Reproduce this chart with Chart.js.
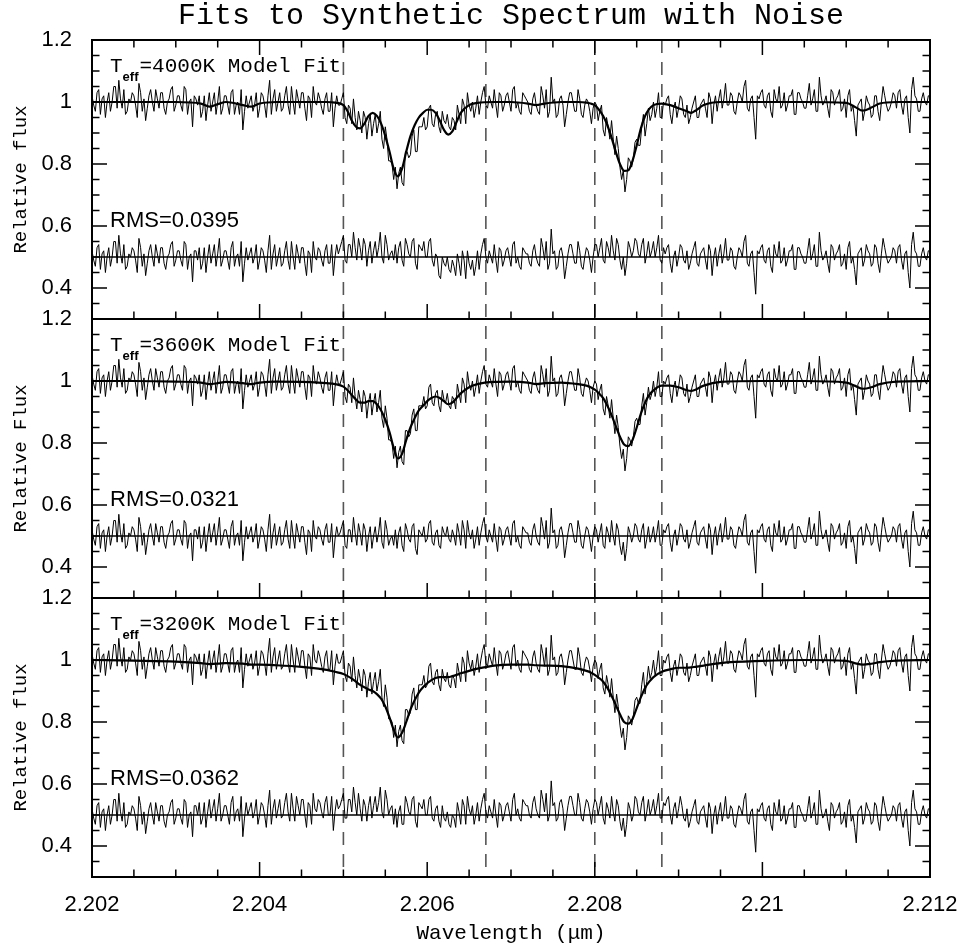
<!DOCTYPE html>
<html>
<head>
<meta charset="utf-8">
<script src="https://cdn.jsdelivr.net/npm/chart.js@4.4.1/dist/chart.umd.min.js"></script>
<style>
html,body{margin:0;padding:0;background:#fff;}
#wrap{position:relative;width:960px;height:952px;}
</style>
</head>
<body>
<div id="wrap"><canvas id="c" width="960" height="952"></canvas></div>
<script>
// ---------------- data ----------------
const WAVE_START = 2.202;      // first wavelength sample (micron)
const WAVE_STEP = 0.00002;     // sampling of the synthetic spectrum (micron)

// synthetic spectrum with noise (same in all three panels)
const SPECTRUM = [
1.02,.99,.97,1.03,1.04,.96,1.01,1.02,.95,1.00,1.03,.97,1.00,1.05,1.05,.98,1.07,1.01,.98,1.04,
.96,.97,1.01,1.00,1.03,1.02,.99,.95,1.06,1.03,.97,1.01,.94,.98,1.02,1.04,1.00,.97,1.04,1.01,
.98,1.03,1.03,.98,.96,1.00,1.01,1.04,1.05,.97,.99,1.02,1.02,.99,.97,1.05,1.04,.96,1.00,1.01,
.92,1.02,1.01,.99,1.02,.95,.97,1.02,.94,.99,1.03,.97,1.00,1.03,.96,1.00,1.05,.96,.98,1.02,
1.02,.99,.96,1.03,1.04,.96,.99,1.00,.96,1.04,.91,.97,1.02,.98,1.00,1.02,.97,.99,1.03,.95,
.98,1.03,1.02,.99,.95,1.02,1.07,.96,1.01,1.04,.97,1.00,1.03,.97,.98,1.02,1.05,.99,.96,1.05,
1.00,.96,1.04,1.01,.98,1.03,1.03,.98,.94,1.02,1.01,.95,1.05,1.00,.99,1.03,1.01,.98,.96,1.01,
1.03,.97,.97,1.03,.92,.98,1.02,.99,.99,1.01,1.03,.95,.93,.99,.98,.93,1.01,.95,.91,.97,
.94,.90,.97,.95,.88,.93,.96,.89,.93,.96,.90,.93,.97,.88,.85,.92,.88,.81,.81,.80,
.75,.79,.72,.77,.79,.74,.73,.84,.84,.82,.83,.89,.91,.84,.84,.92,.92,.92,.95,.91,
.92,.98,.99,.93,.92,.96,.97,.92,.90,.97,.94,.93,.96,.92,.91,.95,.94,.91,.99,.96,
.93,1.01,.99,.93,1.03,.99,.97,1.00,.95,.98,1.02,.96,1.00,1.03,1.05,.99,.98,1.02,1.00,.98,
1.04,.99,.95,1.03,1.02,.97,.99,1.02,1.03,1.00,.97,1.04,1.05,.98,1.00,.97,.96,1.03,1.02,1.01,
1.00,.97,.96,1.01,1.03,.99,.97,.96,1.05,1.02,.98,1.04,.95,.97,1.08,1.00,1.01,.95,.96,1.01,
1.02,.99,.92,.96,1.00,1.03,1.03,1.00,.97,.97,1.04,1.01,.96,.95,.99,1.01,1.00,.97,.93,.98,
1.00,.99,.94,.97,.99,.91,.89,.95,.92,.88,.94,.88,.83,.89,.85,.79,.75,.78,.71,.75,
.82,.81,.79,.82,.87,.88,.86,.86,.92,.96,.89,.93,.98,.94,.96,1.00,.95,.98,1.03,.95,
.95,1.00,.99,1.01,1.02,.96,.93,.98,1.00,.95,.98,1.02,1.01,.96,.95,.99,.93,.95,.98,1.00,
1.02,.95,.95,.99,1.00,1.01,.98,.95,1.03,1.01,.93,.99,1.02,.97,1.01,1.04,.98,1.01,1.06,.99,
.99,1.03,1.02,.97,.96,1.00,1.03,1.02,1.00,1.05,1.07,.98,.97,1.01,1.02,.95,.88,1.02,1.01,1.03,
1.04,.99,.98,1.02,1.03,.97,.95,1.04,1.01,1.00,1.05,.98,.99,1.03,.97,.99,1.02,1.02,1.04,.96,
.96,1.03,1.03,1.01,1.00,.98,.98,1.02,1.06,.99,1.01,1.04,.97,.97,1.08,1.02,.99,1.00,1.02,.98,
.95,1.04,1.03,.99,1.01,1.02,1.04,.97,.98,1.01,.95,1.02,1.04,.97,.99,.94,.89,.99,1.00,1.01,
.94,.97,1.02,1.00,.99,.95,.96,1.02,1.02,.97,.94,1.00,1.05,1.02,.99,.97,.98,1.00,1.03,1.02,
.98,1.03,1.04,.99,.96,1.01,1.02,.95,.90,1.04,1.08,1.02,1.01,.97,.97,1.01,1.03,1.00,.99,1.02,
1.02];

// residuals (data - model + 0.5) for each fit
const RESID_4000 = [
.52,.49,.47,.53,.54,.46,.51,.52,.45,.50,.53,.47,.50,.55,.55,.48,.57,.51,.48,.54,
.46,.47,.51,.50,.53,.52,.49,.45,.56,.53,.47,.51,.44,.48,.52,.54,.50,.47,.54,.51,
.48,.53,.53,.48,.46,.50,.51,.54,.55,.47,.49,.52,.52,.49,.47,.55,.54,.46,.50,.51,
.42,.52,.52,.49,.53,.46,.48,.53,.45,.50,.54,.48,.51,.54,.47,.51,.56,.47,.49,.52,
.52,.49,.46,.53,.55,.47,.50,.51,.47,.55,.42,.48,.53,.49,.51,.53,.48,.50,.54,.46,
.49,.53,.52,.49,.45,.52,.57,.46,.51,.54,.47,.50,.53,.47,.48,.52,.55,.49,.46,.55,
.50,.46,.54,.51,.48,.53,.53,.48,.44,.52,.51,.45,.55,.50,.49,.53,.52,.49,.47,.52,
.54,.48,.48,.54,.44,.50,.54,.51,.53,.55,.57,.49,.48,.54,.54,.50,.58,.53,.49,.56,
.53,.49,.56,.54,.47,.52,.55,.48,.52,.55,.50,.53,.58,.50,.48,.57,.54,.49,.51,.52,
.49,.54,.48,.53,.55,.49,.47,.56,.54,.51,.50,.55,.56,.48,.46,.54,.53,.52,.55,.50,
.50,.55,.56,.49,.47,.51,.50,.44,.43,.50,.48,.47,.50,.46,.45,.49,.47,.44,.51,.48,
.44,.52,.49,.43,.52,.48,.46,.49,.44,.47,.52,.46,.51,.54,.56,.50,.48,.52,.50,.48,
.54,.49,.45,.53,.52,.47,.49,.52,.53,.50,.47,.54,.55,.48,.50,.47,.46,.53,.52,.51,
.51,.48,.47,.52,.54,.50,.48,.47,.56,.53,.49,.55,.46,.48,.59,.51,.52,.46,.47,.52,
.53,.50,.43,.47,.51,.54,.54,.51,.48,.48,.55,.52,.47,.46,.50,.53,.52,.49,.45,.50,
.54,.54,.50,.53,.56,.49,.48,.55,.53,.50,.57,.52,.49,.56,.54,.49,.46,.50,.44,.48,
.55,.53,.50,.52,.56,.55,.51,.50,.54,.56,.48,.51,.55,.50,.52,.55,.50,.53,.57,.49,
.48,.53,.51,.53,.54,.48,.45,.50,.52,.47,.50,.54,.53,.49,.48,.52,.46,.48,.51,.53,
.55,.48,.47,.51,.52,.53,.49,.46,.54,.52,.44,.50,.53,.47,.51,.54,.48,.51,.56,.49,
.49,.53,.52,.47,.46,.50,.53,.52,.50,.55,.57,.48,.47,.51,.52,.45,.38,.52,.51,.53,
.54,.49,.48,.52,.53,.47,.45,.54,.51,.50,.55,.48,.49,.53,.47,.49,.52,.52,.54,.46,
.46,.53,.53,.51,.50,.48,.48,.52,.56,.49,.51,.54,.47,.47,.58,.52,.49,.50,.52,.48,
.45,.54,.53,.49,.51,.52,.54,.47,.48,.51,.46,.53,.55,.48,.50,.46,.41,.51,.52,.53,
.47,.49,.54,.52,.51,.47,.48,.54,.53,.48,.45,.51,.56,.53,.50,.48,.49,.50,.53,.52,
.48,.53,.54,.49,.46,.51,.52,.45,.40,.54,.58,.52,.51,.47,.47,.51,.53,.50,.49,.52,
.52];

const RESID_3600 = [
.52,.49,.47,.53,.54,.46,.51,.52,.45,.50,.53,.47,.50,.55,.55,.48,.57,.51,.48,.54,
.46,.47,.51,.50,.53,.52,.49,.45,.56,.53,.47,.51,.44,.48,.52,.54,.50,.47,.54,.51,
.48,.53,.53,.48,.46,.50,.51,.54,.55,.47,.49,.52,.52,.49,.47,.55,.54,.46,.50,.51,
.42,.52,.52,.49,.53,.46,.48,.53,.45,.50,.54,.48,.51,.54,.47,.51,.56,.47,.49,.52,
.52,.49,.46,.53,.55,.47,.50,.51,.47,.55,.42,.48,.53,.49,.51,.53,.48,.50,.54,.46,
.49,.53,.52,.49,.45,.52,.57,.46,.51,.54,.47,.50,.53,.47,.48,.52,.55,.49,.46,.55,
.50,.46,.54,.51,.48,.53,.53,.48,.44,.52,.51,.45,.55,.50,.49,.53,.52,.49,.47,.52,
.54,.48,.48,.54,.43,.49,.53,.50,.51,.53,.55,.47,.46,.52,.52,.48,.56,.51,.47,.54,
.51,.47,.54,.52,.45,.50,.53,.46,.50,.53,.48,.51,.56,.48,.46,.55,.52,.47,.49,.50,
.47,.52,.46,.51,.53,.47,.45,.54,.52,.49,.48,.53,.54,.46,.44,.52,.51,.50,.53,.48,
.49,.54,.55,.48,.47,.51,.52,.47,.46,.53,.51,.50,.53,.49,.48,.52,.50,.47,.54,.51,
.47,.55,.52,.46,.55,.51,.49,.52,.46,.49,.53,.47,.51,.54,.56,.50,.48,.52,.50,.48,
.54,.49,.45,.53,.52,.47,.49,.52,.53,.50,.47,.54,.55,.48,.50,.47,.46,.53,.52,.51,
.51,.48,.47,.52,.54,.50,.48,.47,.56,.53,.49,.55,.46,.48,.59,.51,.52,.46,.47,.52,
.53,.50,.43,.47,.51,.54,.54,.51,.48,.48,.55,.52,.47,.46,.50,.53,.52,.49,.45,.50,
.53,.52,.48,.51,.54,.47,.46,.53,.51,.48,.55,.50,.47,.54,.52,.47,.44,.48,.42,.46,
.53,.51,.48,.50,.54,.53,.49,.48,.52,.54,.46,.49,.53,.48,.50,.53,.48,.51,.55,.47,
.47,.52,.51,.53,.54,.48,.45,.50,.52,.47,.50,.54,.53,.49,.48,.52,.46,.48,.51,.53,
.55,.48,.47,.51,.52,.53,.49,.46,.54,.52,.44,.50,.53,.47,.51,.54,.48,.51,.56,.49,
.49,.53,.52,.47,.46,.50,.53,.52,.50,.55,.57,.48,.47,.51,.52,.45,.38,.52,.51,.53,
.54,.49,.48,.52,.53,.47,.45,.54,.51,.50,.55,.48,.49,.53,.47,.49,.52,.52,.54,.46,
.46,.53,.53,.51,.50,.48,.48,.52,.56,.49,.51,.54,.47,.47,.58,.52,.49,.50,.52,.48,
.45,.54,.53,.49,.51,.52,.54,.47,.48,.51,.46,.53,.55,.48,.50,.46,.41,.51,.52,.53,
.47,.49,.54,.52,.51,.47,.48,.54,.53,.48,.45,.51,.56,.53,.50,.48,.49,.50,.53,.52,
.48,.53,.54,.49,.46,.51,.52,.45,.40,.54,.58,.52,.51,.47,.47,.51,.53,.50,.49,.52,
.52];

const RESID_3200 = [
.52,.49,.47,.53,.54,.46,.51,.52,.45,.50,.53,.47,.50,.55,.55,.48,.57,.51,.48,.54,
.46,.47,.51,.50,.53,.52,.49,.45,.56,.53,.47,.51,.44,.48,.52,.54,.50,.47,.54,.51,
.48,.53,.53,.48,.46,.50,.51,.54,.55,.47,.49,.52,.52,.49,.47,.55,.54,.46,.50,.51,
.43,.53,.53,.50,.54,.47,.49,.54,.46,.51,.55,.49,.52,.55,.48,.52,.57,.48,.50,.53,
.53,.50,.47,.54,.56,.48,.51,.52,.48,.56,.43,.49,.54,.50,.52,.54,.49,.51,.55,.47,
.50,.54,.53,.50,.46,.53,.58,.47,.52,.55,.49,.52,.55,.49,.50,.54,.57,.51,.48,.57,
.52,.48,.56,.53,.50,.55,.55,.50,.46,.54,.53,.47,.57,.52,.51,.55,.54,.51,.49,.54,
.56,.50,.50,.56,.45,.51,.55,.52,.53,.55,.57,.49,.49,.55,.55,.51,.59,.54,.50,.57,
.52,.48,.55,.53,.48,.53,.56,.49,.53,.56,.51,.54,.59,.51,.49,.58,.55,.50,.52,.53,
.47,.52,.46,.51,.53,.47,.47,.56,.54,.51,.50,.55,.56,.48,.46,.54,.53,.52,.55,.50,
.50,.55,.56,.49,.48,.52,.53,.48,.46,.53,.49,.48,.51,.47,.46,.50,.49,.46,.54,.51,
.47,.55,.53,.47,.56,.52,.50,.53,.47,.50,.54,.48,.52,.55,.57,.51,.49,.53,.51,.49,
.55,.50,.46,.54,.53,.48,.50,.53,.54,.51,.48,.55,.57,.50,.52,.49,.48,.55,.54,.53,
.53,.50,.49,.54,.56,.52,.50,.49,.58,.55,.51,.57,.48,.50,.61,.53,.54,.48,.49,.54,
.55,.52,.45,.49,.53,.56,.56,.53,.50,.50,.57,.54,.49,.48,.52,.55,.54,.51,.47,.52,
.55,.54,.50,.53,.56,.49,.47,.54,.52,.49,.56,.51,.48,.55,.53,.48,.45,.49,.43,.47,
.54,.52,.48,.50,.56,.55,.51,.50,.54,.56,.48,.51,.55,.50,.52,.55,.50,.53,.57,.49,
.49,.54,.53,.55,.56,.50,.47,.52,.54,.49,.52,.56,.53,.49,.48,.52,.46,.48,.51,.53,
.55,.48,.47,.51,.52,.53,.49,.46,.54,.52,.44,.50,.53,.47,.51,.54,.48,.51,.56,.49,
.49,.53,.52,.47,.46,.50,.53,.52,.50,.55,.57,.48,.47,.51,.52,.45,.38,.52,.51,.53,
.54,.49,.48,.52,.53,.47,.45,.54,.51,.50,.55,.48,.49,.53,.47,.49,.52,.52,.54,.46,
.46,.53,.53,.51,.50,.48,.48,.52,.56,.49,.51,.54,.47,.47,.58,.52,.49,.50,.52,.48,
.45,.54,.53,.49,.51,.52,.54,.47,.48,.51,.46,.53,.55,.48,.50,.46,.41,.51,.52,.53,
.47,.49,.54,.52,.51,.47,.48,.54,.53,.48,.45,.51,.56,.53,.50,.48,.49,.50,.53,.52,
.48,.53,.54,.49,.46,.51,.52,.45,.40,.54,.58,.52,.51,.47,.47,.51,.53,.50,.49,.52,
.52];

// model fits, sampled at MODEL_WAVE
const MODEL_WAVE = [
2.2020,2.2025,2.2030,2.2033,2.2034,2.2035,2.2036,2.2038,2.2039,2.2040,
2.2042,2.2045,2.2047,2.2048,2.2049,2.2050,2.20505,2.2051,2.20515,2.2052,
2.20525,2.2053,2.20535,2.2054,2.20545,2.2055,2.20555,2.2056,2.20565,2.2057,
2.20575,2.2058,2.20585,2.2059,2.20595,2.2060,2.20605,2.2061,2.20615,2.2062,
2.20625,2.2063,2.20635,2.2064,2.2065,2.2066,2.2068,2.2070,2.2072,2.2073,
2.2074,2.2076,2.2078,2.2079,2.20795,2.2080,2.20805,2.2081,2.20815,2.2082,
2.20825,2.2083,2.20835,2.2084,2.20845,2.2085,2.20855,2.2086,2.20865,2.2087,
2.2088,2.2089,2.2090,2.2091,2.20915,2.2092,2.2093,2.2095,2.2100,2.2105,
2.2110,2.2111,2.2112,2.2113,2.2114,2.2116,2.2120];

const MODEL_4000 = [
1.0,1.0,1.0,0.995,0.985,0.993,1.0,0.99,0.985,0.995,
1.0,1.0,1.0,1.0,0.998,0.99,0.97,0.94,0.92,0.915,
0.93,0.955,0.965,0.955,0.93,0.89,0.84,0.785,0.76,0.785,
0.84,0.89,0.925,0.95,0.965,0.975,0.975,0.965,0.94,0.91,
0.895,0.905,0.935,0.965,0.99,0.997,1.0,1.0,0.995,0.99,
0.995,1.0,1.0,0.998,0.995,0.99,0.975,0.955,0.925,0.885,
0.84,0.80,0.778,0.78,0.81,0.86,0.915,0.955,0.978,0.99,
0.995,0.99,0.98,0.97,0.965,0.972,0.99,1.0,1.0,1.0,
0.997,0.985,0.972,0.982,0.995,1.0,1.0];

const MODEL_3600 = [
1.0,1.0,0.998,0.995,0.99,0.993,0.997,0.993,0.99,0.995,
0.998,0.997,0.995,0.993,0.99,0.982,0.97,0.955,0.94,0.93,
0.93,0.935,0.935,0.925,0.905,0.875,0.835,0.785,0.75,0.765,
0.81,0.85,0.88,0.905,0.92,0.935,0.945,0.95,0.945,0.935,
0.925,0.93,0.945,0.96,0.98,0.99,0.997,0.998,0.995,0.99,
0.993,0.995,0.99,0.985,0.98,0.972,0.96,0.945,0.92,0.89,
0.855,0.82,0.795,0.79,0.81,0.85,0.895,0.93,0.955,0.97,
0.985,0.985,0.98,0.97,0.968,0.972,0.985,0.997,1.0,1.0,
0.995,0.985,0.975,0.98,0.99,0.998,1.0];

const MODEL_3200 = [
1.0,0.998,0.995,0.99,0.987,0.988,0.99,0.988,0.985,0.985,
0.983,0.978,0.972,0.968,0.962,0.955,0.948,0.94,0.93,0.92,
0.912,0.905,0.90,0.89,0.875,0.85,0.815,0.775,0.75,0.765,
0.80,0.84,0.87,0.895,0.912,0.925,0.935,0.942,0.945,0.945,
0.945,0.948,0.952,0.957,0.965,0.972,0.982,0.985,0.985,0.983,
0.982,0.98,0.972,0.965,0.96,0.952,0.942,0.93,0.91,0.885,
0.855,0.825,0.80,0.795,0.81,0.845,0.88,0.91,0.93,0.945,
0.962,0.97,0.975,0.975,0.976,0.978,0.982,0.99,0.997,1.0,
0.997,0.99,0.985,0.988,0.993,0.998,1.0];

const TEFF_LABELS = ['4000K', '3600K', '3200K'];
const RMS_LABELS = ['0.0395', '0.0321', '0.0362'];
const Y_TITLES = ['Relative flux', 'Relative Flux', 'Relative flux'];
const DASH_WAVES = [2.2050, 2.2067, 2.2080, 2.2088];
const RESID_ZERO = 0.5;
const X_MIN = 2.202, X_MAX = 2.212;
const Y_MIN = 0.3, Y_MAX = 1.2;
const X_TICKS = [2.202, 2.204, 2.206, 2.208, 2.210, 2.212];
const X_TICK_LABELS = ['2.202', '2.204', '2.206', '2.208', '2.21', '2.212'];
const Y_TICKS = [0.4, 0.6, 0.8, 1.0, 1.2];
const Y_TICK_LABELS = ['0.4', '0.6', '0.8', '1', '1.2'];

// ---------------- chart ----------------
const SANS = "'Liberation Sans', Arial, Helvetica, sans-serif";
const MONO = "'Liberation Mono', 'Courier New', monospace";
const PANEL_IDS = ['y1', 'y2', 'y3'];
const MODELS = [MODEL_4000, MODEL_3600, MODEL_3200];
const RESIDS = [RESID_4000, RESID_3600, RESID_3200];

const specPoints = SPECTRUM.map((v, i) => ({x: WAVE_START + i * WAVE_STEP, y: v}));

const datasets = [];
PANEL_IDS.forEach((id, k) => {
  datasets.push({
    label: 'model ' + TEFF_LABELS[k], yAxisID: id, xAxisID: 'x', order: 0,
    data: MODEL_WAVE.map((w, i) => ({x: w, y: MODELS[k][i]})),
    borderColor: '#000', borderWidth: 2.2, pointRadius: 0, cubicInterpolationMode: 'monotone', fill: false
  });
  datasets.push({
    label: 'spectrum', yAxisID: id, xAxisID: 'x', order: 1,
    data: specPoints,
    borderColor: '#000', borderWidth: 1, pointRadius: 0, tension: 0, fill: false
  });
  datasets.push({
    label: 'residual ' + TEFF_LABELS[k], yAxisID: id, xAxisID: 'x', order: 1,
    data: RESIDS[k].map((v, i) => ({x: WAVE_START + i * WAVE_STEP, y: v})),
    borderColor: '#000', borderWidth: 1, pointRadius: 0, tension: 0, fill: false
  });
  datasets.push({
    label: 'zero', yAxisID: id, xAxisID: 'x', order: 2,
    data: [{x: X_MIN, y: RESID_ZERO}, {x: X_MAX, y: RESID_ZERO}],
    borderColor: '#000', borderWidth: 1.5, pointRadius: 0, fill: false
  });
});

const framePlugin = {
  id: 'frame',
  beforeDatasetsDraw(chart) {
    const ctx = chart.ctx, xs = chart.scales.x, ca = chart.chartArea;
    ctx.save();
    ctx.strokeStyle = '#555';
    ctx.lineWidth = 1.6;
    ctx.setLineDash([13, 9]);
    DASH_WAVES.forEach(w => {
      const px = xs.getPixelForValue(w);
      ctx.beginPath();
      ctx.moveTo(px, ca.top);
      ctx.lineTo(px, ca.bottom);
      ctx.stroke();
    });
    ctx.restore();
  },
  afterDatasetsDraw(chart) {
    const ctx = chart.ctx, xs = chart.scales.x;
    const L = xs.left, R = xs.right;
    PANEL_IDS.forEach((id, k) => {
      const ys = chart.scales[id];
      const T = ys.top, B = ys.bottom;
      ctx.save();
      ctx.strokeStyle = '#000';
      ctx.lineWidth = 1.5;
      ctx.beginPath();
      for (let j = 7; j <= 23; j++) {
        const py = ys.getPixelForValue(j * 0.05);
        const len = (j % 4 === 0) ? 15 : 7.5;
        ctx.moveTo(L, py); ctx.lineTo(L + len, py);
        ctx.moveTo(R, py); ctx.lineTo(R - len, py);
      }
      for (let j = 1; j < 20; j++) {
        const px = xs.getPixelForValue(X_MIN + j * 0.0005);
        const len = (j % 4 === 0) ? 15 : 7.5;
        ctx.moveTo(px, B); ctx.lineTo(px, B - len);
        if (k === 0) { ctx.moveTo(px, T); ctx.lineTo(px, T + len); }
      }
      ctx.stroke();
      ctx.lineWidth = 2;
      ctx.strokeRect(L, T, R - L, B - T);

      // labels
      ctx.fillStyle = '#000';
      ctx.textBaseline = 'alphabetic';
      ctx.textAlign = 'left';
      const x0 = L + 18;
      const yb = T + 32;
      ctx.font = '21px ' + MONO;
      ctx.fillText('T', x0, yb);
      const wT = ctx.measureText('T').width;
      ctx.font = 'bold 13px ' + SANS;
      ctx.fillText('eff', x0 + wT, yb + 9);
      const wE = ctx.measureText('eff').width;
      ctx.font = '21px ' + MONO;
      ctx.fillText('=' + TEFF_LABELS[k] + ' Model Fit', x0 + wT + wE + 1, yb);
      ctx.font = '22px ' + SANS;
      ctx.fillText('RMS=' + RMS_LABELS[k], x0, T + 187);
      ctx.restore();
    });
  }
};

const scales = {
  x: {
    type: 'linear', position: 'bottom', min: X_MIN, max: X_MAX,
    afterBuildTicks: s => { s.ticks = X_TICKS.map(v => ({value: v})); },
    afterFit: s => { s.height = 75; s.paddingLeft = 0; s.paddingRight = 0; },
    ticks: {
      autoSkip: false, maxRotation: 0, padding: 15, color: '#000',
      font: {family: SANS, size: 22},
      callback: (v, i) => X_TICK_LABELS[i]
    },
    grid: {display: false, drawTicks: false},
    border: {display: false},
    title: {display: true, text: 'Wavelength (μm)', color: '#000',
            font: {family: MONO, size: 21}, padding: {top: 0, bottom: 6}}
  }
};
PANEL_IDS.forEach((id, k) => {
  scales[id] = {
    type: 'linear', position: 'left', stack: 'panels', stackWeight: 1, weight: 3 - k,
    min: Y_MIN, max: Y_MAX,
    afterBuildTicks: s => { s.ticks = Y_TICKS.map(v => ({value: v})); },
    afterFit: s => { s.width = 92; },
    ticks: {
      autoSkip: false, padding: 20, color: '#000',
      font: {family: SANS, size: 22},
      callback: (v, i) => Y_TICK_LABELS[i]
    },
    grid: {display: false, drawTicks: false},
    border: {display: false},
    title: {display: true, text: Y_TITLES[k], color: '#000',
            font: {family: MONO, size: 19}, padding: {top: 10, bottom: 0}}
  };
});

new Chart(document.getElementById('c'), {
  type: 'line',
  data: {datasets},
  options: {
    responsive: false,
    animation: false,
    devicePixelRatio: 1,
    layout: {padding: {left: 0, right: 30, top: 0, bottom: 0}},
    plugins: {
      legend: {display: false},
      tooltip: {enabled: false},
      title: {
        display: true, fullSize: false,
        text: 'Fits to Synthetic Spectrum with Noise', color: '#000',
        font: {family: MONO, size: 30, weight: 'normal', lineHeight: 0.8},
        padding: {top: 4, bottom: 12}
      }
    },
    scales
  },
  plugins: [framePlugin]
});
</script>
</body>
</html>
